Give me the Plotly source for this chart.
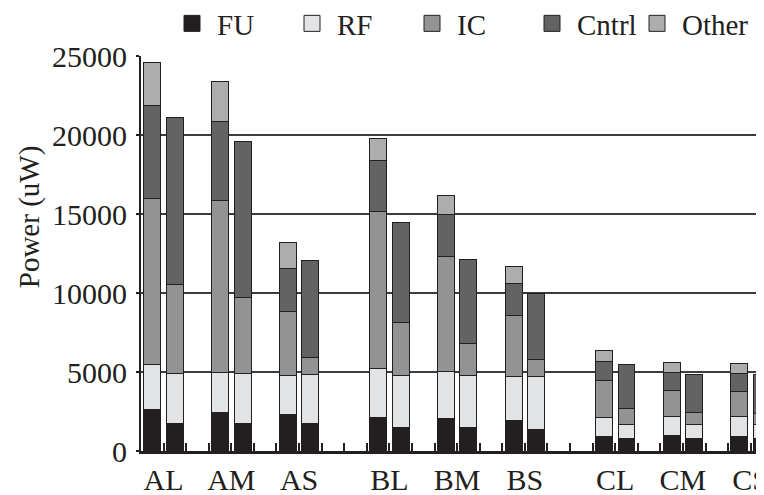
import plotly.graph_objects as go

# ---------------- data ----------------
group_labels = ["AL", "AM", "AS", "BL", "BM", "BS", "CL", "CM", "CS"]
series_names = ["FU", "RF", "IC", "Cntrl", "Other"]

# each group has two bars: first (with Other) and second
fu_first = [2640, 2425, 2340, 2130, 2070, 1920, 910, 950, 910]
fu_second = [1710, 1710, 1710, 1500, 1480, 1370, 820, 820, 820]
rf_first = [2830, 2575, 2450, 3100, 2990, 2765, 1205, 1220, 1305]
rf_second = [3165, 3165, 3120, 3290, 3270, 3335, 850, 850, 850]
ic_first = [10500, 10830, 4050, 9900, 7220, 3885, 2365, 1650, 1565]
ic_second = [5635, 4855, 1100, 3355, 2040, 1055, 1050, 755, 710]
cntrl_first = [5870, 5020, 2740, 3250, 2660, 2000, 1200, 1180, 1140]
cntrl_second = [10590, 9890, 6140, 6305, 5320, 4200, 2770, 2405, 2450]
other_first = [2740, 2530, 1610, 1410, 1240, 1120, 650, 590, 610]
other_second = [None] * 9

y_ticks = [0, 5000, 10000, 15000, 20000, 25000]

# ---------------- styling ----------------
colors = {"FU": "#231f20", "RF": "#e2e3e4", "IC": "#939393",
          "Cntrl": "#636363", "Other": "#adadad"}
ink = "#231f20"
font_family = "Liberation Serif, Times New Roman, serif"

# page body has an 8px default margin; size the figure to fill the rest
OFF = 8
W, H = 764 - OFF, 495 - OFF
PL, PT, PB = 141 - OFF, 56 - OFF, 44   # plot area: x 141..764, y 56..451
plot_w, plot_h = W - PL, H - PT - PB

# slot positions: 3 families x 3 sizes x 2 bars, one empty slot between
# pairs and two between families
first_pos = []
for gi in range(len(group_labels)):
    fam, size = divmod(gi, 3)
    first_pos.append(fam * 10 + size * 3)
second_pos = [p + 1 for p in first_pos]
xs = first_pos + second_pos

series_vals = {
    "FU": fu_first + fu_second,
    "RF": rf_first + rf_second,
    "IC": ic_first + ic_second,
    "Cntrl": cntrl_first + cntrl_second,
    "Other": other_first + other_second,
}

fig = go.Figure()
for name in series_names:
    fig.add_trace(go.Bar(
        x=xs, y=series_vals[name], name=name, width=0.75,
        legendgroup=name, showlegend=False,
        marker=dict(color=colors[name], line=dict(color=ink, width=1)),
    ))
# legend entries with larger square swatches
legend_widths = {"FU": 65, "RF": 65, "IC": 65, "Cntrl": 50, "Other": 65}
for name in series_names:
    fig.add_trace(go.Scatter(
        x=[None], y=[None], mode="markers", name=name, legendgroup=name,
        legendwidth=legend_widths[name],
        marker=dict(symbol="square", size=16, color=colors[name],
                    line=dict(color=ink, width=1)),
        hoverinfo="skip",
    ))

n_slots = max(second_pos) + 1
tickvals = [k - 0.5 for k in range(n_slots + 1)]
label_at = {p + 0.5: lab for p, lab in zip(first_pos, group_labels)}
ticktext = [label_at.get(v, "") for v in tickvals]

fig.update_layout(
    template="none",
    width=W, height=H,
    margin=dict(l=PL, r=0, t=PT, b=PB, pad=0, autoexpand=False),
    paper_bgcolor="white", plot_bgcolor="white",
    barmode="stack",
    font=dict(family=font_family, size=30, color=ink),
    showlegend=True,
    legend=dict(
        orientation="h", traceorder="normal",
        xref="container", yref="container",
        x=(167 - OFF) / W, xanchor="left",
        y=1 - (23.5 - OFF) / H, yanchor="middle",
        itemwidth=40,
        entrywidth=65, entrywidthmode="pixels",
        font=dict(size=29, family=font_family, color=ink),
        bgcolor="rgba(0,0,0,0)",
    ),
    xaxis=dict(
        range=[-0.5, 27.09],
        tickmode="array", tickvals=tickvals, ticktext=ticktext,
        ticks="inside", ticklen=8, tickwidth=1.5, tickcolor=ink,
        showgrid=False, zeroline=False,
        showline=True, linecolor=ink, linewidth=2.5, mirror=False,
        automargin=False, ticklabelstandoff=0,
        ticklabeloverflow="allow",
        tickfont=dict(size=30),
    ),
    yaxis=dict(
        range=[0, 25000],
        tickmode="array", tickvals=y_ticks, tickformat="d",
        ticks="outside", ticklen=3, tickwidth=1.5, tickcolor=ink,
        showgrid=True, gridcolor="#3c3c3c", gridwidth=1.5,
        zeroline=False,
        showline=True, linecolor=ink, linewidth=2,
        automargin=False, ticklabelstandoff=3,
        tickfont=dict(size=30),
    ),
    annotations=[dict(
        text="Power (uW)", textangle=-90,
        xref="paper", yref="paper",
        x=(29.5 - 141) / plot_w, y=(451 - 216.7) / plot_h,
        xanchor="center", yanchor="middle", showarrow=False,
        font=dict(size=29, family=font_family, color=ink),
    )],
)

fig.write_html("out.html")
